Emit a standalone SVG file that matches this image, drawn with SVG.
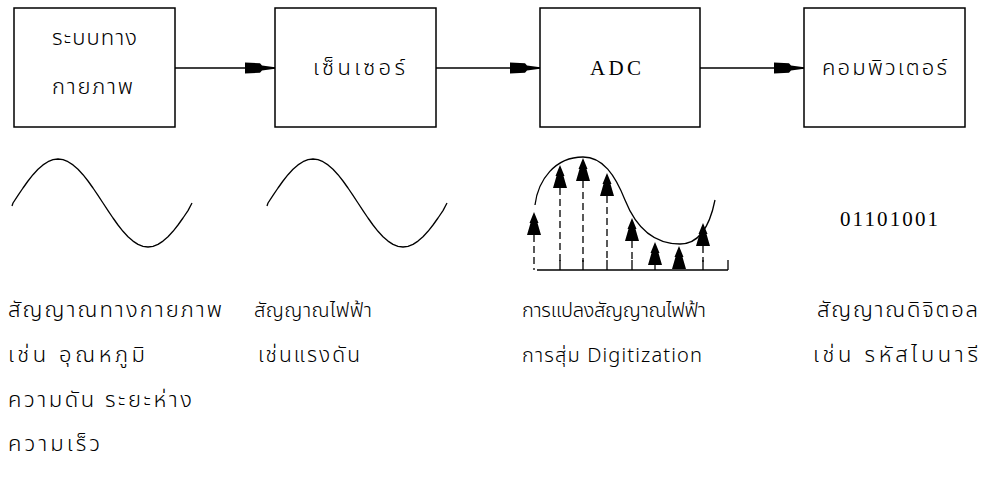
<svg xmlns="http://www.w3.org/2000/svg" width="986" height="480" viewBox="0 0 986 480">
<style>
.box{fill:#fff;stroke:#000;stroke-width:1.5}
.th{font-family:"Noto Sans Thai","Noto Sans","Liberation Sans",sans-serif;font-size:22px;font-weight:300;fill:#000}
.s20{font-size:20px}
.s21{font-size:21px}
.lat{font-family:"Liberation Serif",serif;font-size:21px;fill:#000}
.conn{stroke:#000;stroke-width:1.3;fill:none}
.wave{stroke:#000;stroke-width:1.3;fill:none}
.dash{stroke:#000;stroke-width:1.3;stroke-dasharray:7,4;fill:none}
.tick{stroke:#000;stroke-width:1.3}
</style>
<defs>
<marker id="ah" markerUnits="userSpaceOnUse" markerWidth="31" markerHeight="14" viewBox="0 0 31 14" refX="30" refY="7" orient="auto">
<path d="M0,1.5 L15,2.2 L17,4.5 L30,6.2 L30,7.8 L17,9.5 L15,11.8 L0,12.5 Z" fill="#000"/>
</marker>
<path id="tree" d="M0,0 L4.5,11 L3.5,11 L7,23 L-7,23 L-3.5,11 L-4.5,11 Z" fill="#000"/>
<path id="sine" d="M12,206 L13,203 L18,195.4 L23,188 L28,181 L33,174.7 L38,169.3 L43,164.9 L48,161.7 L53,159.7 L58,159 L63,159.7 L68,161.7 L73,164.9 L78,169.3 L83,174.7 L88,181 L93,188 L98,195.4 L103,203 L108,210.6 L113,218 L118,225 L123,231.3 L128,236.7 L133,241.1 L138,244.4 L143,246.3 L148,247 L153,246.3 L158,244.4 L163,241.1 L168,236.7 L173,231.3 L178,225 L183,218 L188,210.6 L192,203" class="wave" stroke-linejoin="round"/>
</defs>

<g id="connectors">
<line class="conn" x1="175" y1="68" x2="275" y2="68" marker-end="url(#ah)"/>
<line class="conn" x1="436" y1="68" x2="540" y2="68" marker-end="url(#ah)"/>
<line class="conn" x1="700" y1="68" x2="804" y2="68" marker-end="url(#ah)"/>
</g>

<g id="node-physical">
<rect class="box" x="14" y="8" width="161" height="119"/>
<text class="th" x="52" y="45" textLength="85" lengthAdjust="spacing">ระบบทาง</text>
<text class="th" x="52" y="94" textLength="81" lengthAdjust="spacing">กายภาพ</text>
</g>
<g id="node-sensor">
<rect class="box" x="275" y="8" width="161" height="119"/>
<text class="th" x="313" y="75" textLength="92" lengthAdjust="spacing">เซ็นเซอร์</text>
</g>
<g id="node-adc">
<rect class="box" x="540" y="8" width="160" height="119"/>
<text class="lat" x="590" y="75" textLength="51" lengthAdjust="spacing">ADC</text>
</g>
<g id="node-computer">
<rect class="box" x="804" y="8" width="161" height="119"/>
<text class="th" x="822" y="75" textLength="125" lengthAdjust="spacing">คอมพิวเตอร์</text>
</g>

<g id="wave-physical">
<use href="#sine"/>
</g>
<g id="wave-electric">
<use href="#sine" transform="translate(255,0)"/>
</g>

<g id="sampling">
<path class="wave" d="M535,205 C538,180 555,157 583,157 C603,157 615,175 625,200 C637,230 655,244 680,244 C700,244 710,225 715,200"/>
<line class="tick" x1="537" y1="270" x2="728" y2="270"/>
<line class="tick" x1="728" y1="260" x2="728" y2="270"/>
<line class="dash" x1="534" y1="235" x2="534" y2="270"/>
<line class="dash" x1="560" y1="188" x2="560" y2="262"/>
<line class="tick" x1="560" y1="260" x2="560" y2="270"/>
<line class="dash" x1="583" y1="181" x2="583" y2="262"/>
<line class="tick" x1="583" y1="260" x2="583" y2="270"/>
<line class="dash" x1="607" y1="196" x2="607" y2="262"/>
<line class="tick" x1="607" y1="260" x2="607" y2="270"/>
<line class="dash" x1="632" y1="241" x2="632" y2="262"/>
<line class="tick" x1="632" y1="260" x2="632" y2="270"/>
<line class="tick" x1="655" y1="262" x2="655" y2="270"/>
<line class="dash" x1="703" y1="246" x2="703" y2="262"/>
<line class="tick" x1="703" y1="260" x2="703" y2="270"/>
<use href="#tree" x="534" y="212"/>
<use href="#tree" x="560" y="165"/>
<use href="#tree" x="583" y="158"/>
<use href="#tree" x="607" y="173"/>
<use href="#tree" x="632" y="218"/>
<use href="#tree" x="655" y="242"/>
<use href="#tree" x="679" y="246"/>
<use href="#tree" x="703" y="223"/>
</g>

<g id="binary">
<text class="lat" x="840" y="226" textLength="98" lengthAdjust="spacing">01101001</text>
</g>

<g id="labels">
<text class="th" x="8" y="317" textLength="214" lengthAdjust="spacing">สัญญาณทางกายภาพ</text>
<text class="th" x="8" y="362" textLength="137" lengthAdjust="spacing">เช่น  อุณหภูมิ</text>
<text class="th" x="8" y="407" textLength="184" lengthAdjust="spacing">ความดัน ระยะห่าง</text>
<text class="th" x="8" y="451" textLength="92" lengthAdjust="spacing">ความเร็ว</text>
<text class="th s20" x="254" y="317" textLength="118" lengthAdjust="spacing">สัญญาณไฟฟ้า</text>
<text class="th s21" x="258" y="362" textLength="102" lengthAdjust="spacing">เช่นแรงดัน</text>
<text class="th s20" x="522" y="317" textLength="184" lengthAdjust="spacing">การแปลงสัญญาณไฟฟ้า</text>
<text class="th s20" x="522" y="362" textLength="180" lengthAdjust="spacing">การสุ่ม  Digitization</text>
<text class="th" x="817" y="317" textLength="161" lengthAdjust="spacing">สัญญาณดิจิตอล</text>
<text class="th" x="813" y="362" textLength="165" lengthAdjust="spacing">เช่น รหัสไบนารี</text>
</g>
</svg>
